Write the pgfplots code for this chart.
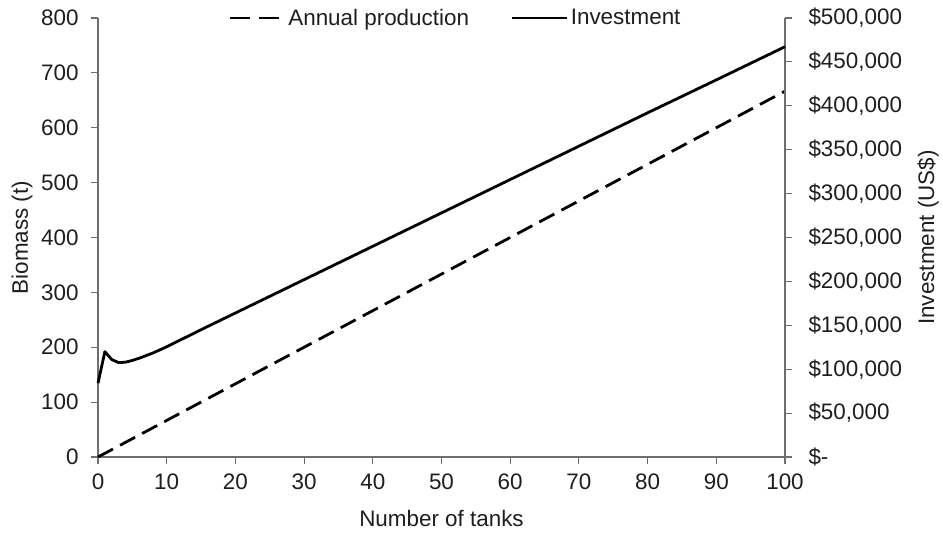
\documentclass[border=0pt]{standalone}
\usepackage{pgfplots}
\pgfplotsset{compat=1.18}
\usepackage{fontspec}
\setmainfont{Liberation Sans}
\definecolor{axgray}{RGB}{110,110,110}
\definecolor{txt}{RGB}{30,30,30}
\newcommand{\bigf}{\fontsize{22.5}{27}\selectfont}
\pgfplotsset{
  common/.style={
    scale only axis, width=687bp, height=439bp,
    xmin=0, xmax=100,
    font=\bigf,
    tick label style={font=\bigf, text=txt},
    label style={font=\bigf, text=txt},
    axis line style={-, axgray, line width=1.1bp},
    tick style={axgray, line width=1.1bp},
    tick align=outside, major tick length=7bp,
    /pgf/number format/assume math mode=true,
    clip=false,
  }
}
\begin{document}
\begin{tikzpicture}
\begin{axis}[common,
  axis x line*=bottom, axis y line*=left,
  ymin=0, ymax=800,
  xtick={0,10,...,100}, ytick={0,100,...,800},
  xlabel={Number of tanks}, ylabel={Biomass (t)},
  xlabel style={at={(axis description cs:0.5,-0.139)}, anchor=center},
  ylabel style={at={(axis description cs:-0.1106,0.5)}, anchor=center},
  yticklabel style={xshift=-9bp},
  xticklabel style={yshift=-6bp},
]
\addplot[black, line width=2.8bp, dash pattern=on 17bp off 8bp] coordinates {(0,0) (100,666.7)};
\end{axis}
\begin{axis}[common,
  axis x line=none, axis y line*=right,
  ymin=0, ymax=500000, scaled y ticks=false,
  ytick={0,50000,...,500000},
  yticklabels={{\$-},{\$50,000},{\$100,000},{\$150,000},{\$200,000},{\$250,000},{\$300,000},{\$350,000},{\$400,000},{\$450,000},{\$500,000}},
  yticklabel style={xshift=13bp, anchor=west},
  ylabel={Investment (US\$)},
  ylabel style={at={(axis description cs:1.2082,0.5)}, anchor=center},
  legend style={draw=none, fill=none, at={(0.5,1)}, anchor=center, xshift=14bp, legend columns=2,
    font=\bigf, text=txt,
    /tikz/every even column/.append style={column sep=40bp}},
  legend cell align=left,
  legend image code/.code={\draw[#1] (0bp,0bp) -- (55bp,0bp);},
]
\addlegendimage{black, line width=2.8bp, dash pattern=on 20bp off 9bp}
\addlegendentry{Annual production}
\addplot[black, line width=2.8bp, line join=round] coordinates {
(0,84000) (1,120000) (2,111000) (3,107500) (4,108000) (5,110000) (6,112500) (8,118500) (10,125500) (15,145000) (20,164000) (30,202000) (40,240000) (50,278000) (60,316000) (70,354000) (80,392000) (90,429500) (100,467300)};
\addlegendentry{Investment}
\end{axis}
\pgfresetboundingbox
\path[use as bounding box] (-98bp,-77bp) rectangle (845bp,457bp);
\end{tikzpicture}
\end{document}
